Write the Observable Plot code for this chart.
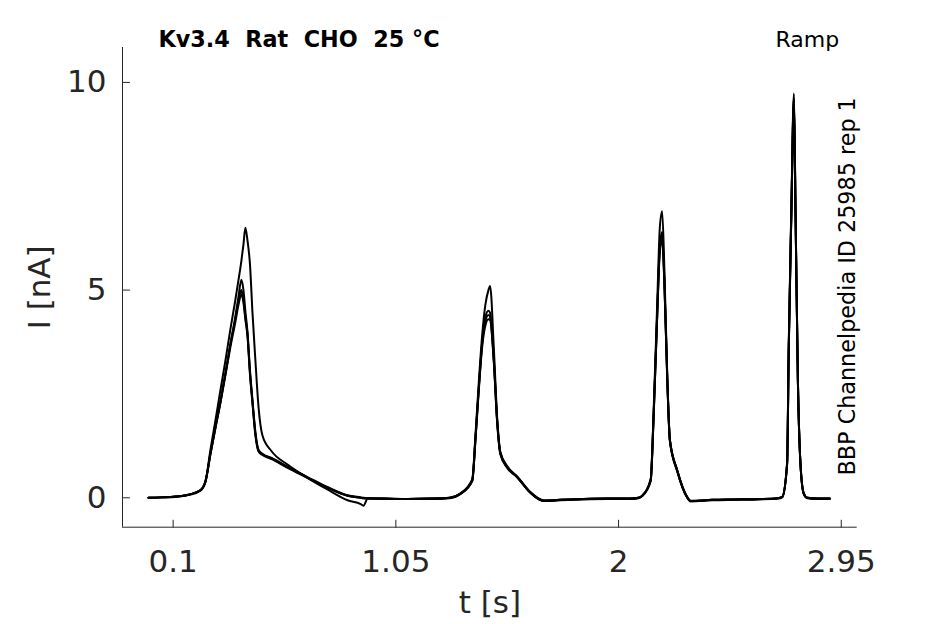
<!DOCTYPE html>
<html><head><meta charset="utf-8">
<script src="https://cdn.jsdelivr.net/npm/d3@7"></script>
<script src="https://cdn.jsdelivr.net/npm/@observablehq/plot@0.6"></script>
<style>html,body{margin:0;padding:0;background:#fff;overflow:hidden}</style>
</head><body><div id="chart"></div>
<script>
// time in seconds (shared by all sweeps)
const timeS = [
  -0.005, 0.05, 0.11, 0.17, 0.216, 0.238, 0.259, 0.28, 0.302, 0.323,
  0.344, 0.365, 0.379, 0.391, 0.4, 0.408, 0.417, 0.428, 0.438, 0.451,
  0.464, 0.481, 0.52, 0.588, 0.673, 0.758, 0.844, 0.9, 0.912, 0.93,
  1.0, 1.1, 1.2, 1.28, 1.326, 1.376, 1.39, 1.404, 1.418, 1.432,
  1.445, 1.452, 1.468, 1.482, 1.496, 1.525, 1.568, 1.624, 1.681, 1.752,
  1.85, 1.95, 2.05, 2.085, 2.101, 2.137, 2.15, 2.165, 2.176, 2.186,
  2.196, 2.208, 2.219, 2.25, 2.293, 2.307, 2.4, 2.5, 2.6, 2.68,
  2.698, 2.719, 2.726, 2.737, 2.748, 2.755, 2.765, 2.776, 2.79, 2.805,
  2.85, 2.901
];
// current in nA, one array per sweep
const sweepA = [
  0.00, 0.01, 0.03, 0.08, 0.18, 0.40, 1.15, 1.85, 2.60, 3.30,
  4.05, 4.75, 5.25, 5.70, 6.10, 6.50, 6.20, 5.60, 4.50, 3.30,
  2.20, 1.50, 1.12, 0.80, 0.48, 0.20, -0.06, -0.15, -0.19, -0.02,
  -0.02, -0.03, -0.02, 0.00, 0.11, 0.45, 1.55, 2.80, 3.90, 4.65,
  5.00, 5.10, 3.60, 1.95, 1.10, 0.76, 0.50, 0.12, -0.08, -0.05,
  -0.03, -0.02, -0.02, 0.00, 0.05, 0.45, 2.15, 4.70, 6.50, 6.90,
  5.40, 2.90, 1.40, 0.66, 0.01, -0.08, -0.05, -0.04, -0.03, -0.01,
  0.02, 0.85, 3.70, 6.95, 9.73, 6.90, 2.85, 0.82, 0.10, 0.00,
  -0.02, -0.02
];
const sweepB = [
  0.00, 0.01, 0.03, 0.08, 0.18, 0.40, 1.07, 1.70, 2.34, 3.00,
  3.70, 4.30, 4.75, 5.00, 4.75, 4.35, 3.96, 3.00, 2.34, 1.54,
  1.14, 1.05, 0.95, 0.74, 0.50, 0.26, 0.06, 0.01, 0.00, -0.01,
  -0.02, -0.03, -0.02, 0.00, 0.10, 0.42, 1.46, 2.66, 3.70, 4.25,
  4.40, 4.35, 3.30, 1.86, 1.06, 0.74, 0.50, 0.13, -0.07, -0.05,
  -0.03, -0.02, -0.02, 0.00, 0.05, 0.42, 2.03, 4.43, 6.00, 6.30,
  5.10, 2.82, 1.38, 0.66, 0.01, -0.08, -0.05, -0.04, -0.03, -0.01,
  0.02, 0.82, 3.63, 6.84, 9.60, 6.84, 2.82, 0.82, 0.10, 0.00,
  -0.02, -0.02
];
const sweepC = [
  0.00, 0.01, 0.03, 0.08, 0.18, 0.40, 1.05, 1.68, 2.30, 2.98,
  3.68, 4.35, 4.85, 5.25, 5.00, 4.50, 4.00, 3.05, 2.38, 1.58,
  1.16, 1.06, 0.96, 0.75, 0.49, 0.25, 0.05, 0.00, -0.01, -0.01,
  -0.02, -0.03, -0.02, 0.00, 0.10, 0.42, 1.45, 2.66, 3.72, 4.35,
  4.50, 4.45, 3.35, 1.88, 1.08, 0.75, 0.51, 0.14, -0.06, -0.05,
  -0.03, -0.02, -0.02, 0.00, 0.05, 0.42, 2.05, 4.45, 6.05, 6.40,
  5.15, 2.85, 1.40, 0.67, 0.02, -0.07, -0.05, -0.04, -0.03, -0.01,
  0.02, 0.82, 3.60, 6.80, 9.65, 6.85, 2.84, 0.83, 0.11, 0.00,
  -0.02, -0.02
];
const sweepD = [
  0.00, 0.01, 0.02, 0.07, 0.17, 0.38, 1.04, 1.66, 2.30, 2.95,
  3.62, 4.22, 4.65, 4.90, 4.70, 4.30, 3.90, 2.95, 2.30, 1.50,
  1.12, 1.03, 0.93, 0.72, 0.48, 0.24, 0.05, 0.00, -0.01, -0.02,
  -0.03, -0.03, -0.03, -0.01, 0.09, 0.40, 1.42, 2.60, 3.62, 4.15,
  4.30, 4.28, 3.25, 1.82, 1.04, 0.72, 0.49, 0.12, -0.08, -0.06,
  -0.04, -0.03, -0.03, -0.01, 0.04, 0.40, 2.00, 4.38, 5.90, 6.20,
  5.05, 2.80, 1.36, 0.64, 0.00, -0.09, -0.06, -0.05, -0.04, -0.02,
  0.01, 0.80, 3.55, 6.75, 9.50, 6.80, 2.80, 0.80, 0.09, -0.01,
  -0.03, -0.03
];
const sweepNames = ["A", "B", "C", "D"];
const sweeps = [sweepA, sweepB, sweepC, sweepD];

const xTicks = [0.1, 1.05, 2, 2.95];
const xTickLabels = ["0.1", "1.05", "2", "2.95"];
const yTicks = [0, 5, 10];
const yTickLabels = ["0", "5", "10"];
const xDomain = [-0.116, 3.018];
const yDomain = [-0.708, 10.84];

const titleText = "Kv3.4  Rat  CHO  25 °C";
const protocolText = "Ramp";
const sideText = "BBP Channelpedia ID 25985 rep 1";
const xLabel = "t [s]";
const yLabel = "I [nA]";

const rows = sweeps.flatMap((s, k) => timeS.map((t, i) => ({t, I: s[i], sweep: sweepNames[k]})));

const axisColor = "#262626";
const tickShape = {draw(context, l) { context.moveTo(0, 0); context.lineTo(0, -l); }};

const chart = Plot.plot({
  width: 945,
  height: 624,
  marginLeft: 122,
  marginRight: 88.3,
  marginTop: 47,
  marginBottom: 97.3,
  style: {fontFamily: "DejaVu Sans", background: "#fff", overflow: "visible"},
  x: {domain: xDomain, axis: null},
  y: {domain: yDomain, axis: null},
  marks: [
    Plot.line(rows, {x: "t", y: "I", z: "sweep", stroke: "#000", strokeWidth: 2, curve: "monotone-x"}),
    Plot.ruleY([yDomain[0]], {stroke: axisColor, strokeWidth: 1}),
    Plot.ruleX([xDomain[0]], {stroke: axisColor, strokeWidth: 1}),
    Plot.vector(xTicks, {x: d => d, y: yDomain[0], length: 7, rotate: 0, anchor: "start", shape: tickShape, stroke: axisColor, strokeWidth: 1}),
    Plot.vector(yTicks, {x: xDomain[0], y: d => d, length: 7, rotate: 90, anchor: "start", shape: tickShape, stroke: axisColor, strokeWidth: 1}),
    Plot.text(xTicks, {x: d => d, text: (d, i) => xTickLabels[i], frameAnchor: "bottom", dy: 45, lineAnchor: "bottom", textAnchor: "middle", fontSize: 31, fill: axisColor}),
    Plot.text(yTicks, {y: d => d, text: (d, i) => yTickLabels[i], frameAnchor: "left", dx: -16, lineAnchor: "middle", textAnchor: "end", fontSize: 31, fill: axisColor}),
    Plot.text([xLabel], {frameAnchor: "bottom", dy: 86, lineAnchor: "bottom", textAnchor: "middle", fontSize: 31, fill: axisColor}),
    Plot.text([yLabel], {frameAnchor: "left", dx: -73, rotate: -90, lineAnchor: "bottom", textAnchor: "middle", fontSize: 31, fill: axisColor}),
    Plot.text([titleText], {frameAnchor: "top-left", dx: 36, dy: -0.3, lineAnchor: "bottom", textAnchor: "start", fontSize: 22.3, fontWeight: "bold", fill: "#000"}),
    Plot.text([protocolText], {frameAnchor: "top-right", dx: -18, dy: -0.3, lineAnchor: "bottom", textAnchor: "end", fontSize: 22, fill: "#000"}),
    Plot.text([sideText], {frameAnchor: "bottom-right", dx: -2.4, dy: -51.7, rotate: -90, lineAnchor: "bottom", textAnchor: "start", fontSize: 22.3, fill: "#000"})
  ]
});
document.getElementById("chart").appendChild(chart);
</script>
</body></html>
